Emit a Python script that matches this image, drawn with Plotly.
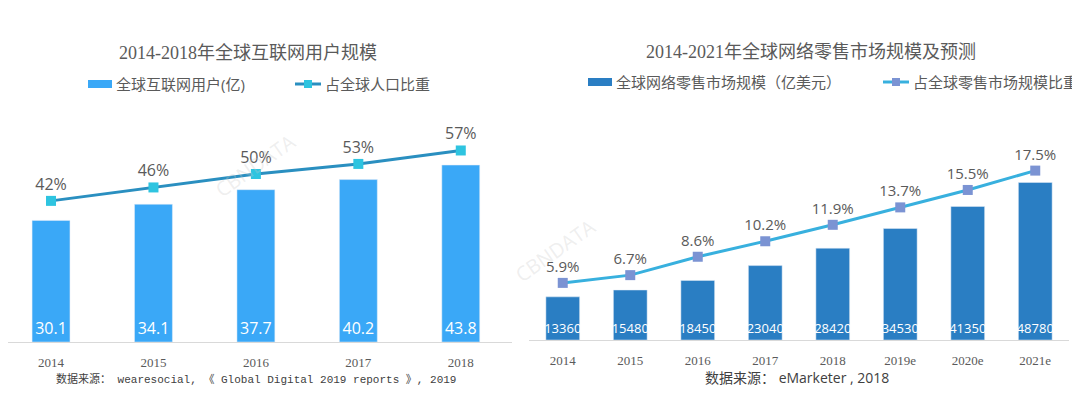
import plotly.graph_objects as go

# ---------------- data ----------------
left_years = ["2014", "2015", "2016", "2017", "2018"]
left_users = [30.1, 34.1, 37.7, 40.2, 43.8]          # 全球互联网用户(亿)
left_share = [42, 46, 50, 53, 57]                    # 占全球人口比重 (%)

right_years = ["2014", "2015", "2016", "2017", "2018", "2019e", "2020e", "2021e"]
right_market = [13360, 15480, 18450, 23040, 28420, 34530, 41350, 48780]  # 亿美元
right_share = [5.9, 6.7, 8.6, 10.2, 11.9, 13.7, 15.5, 17.5]             # %

left_title = "2014-2018年全球互联网用户规模"
right_title = "2014-2021年全球网络零售市场规模及预测"
left_bar_name = "全球互联网用户(亿)"
left_line_name = "占全球人口比重"
right_bar_name = "全球网络零售市场规模（亿美元）"
right_line_name = "占全球零售市场规模比重"
left_source = "数据来源： wearesocial, 《 Global Digital 2019 reports 》, 2019"
right_source = "数据来源： eMarketer , 2018"

# ---------------- style ----------------
# the page body has an 8px margin, so the figure is drawn 8px right/down
OX, OY = 8, 8
W, H = 1080 - OX, 393 - OY
SANS = "Open Sans, Noto Sans CJK SC, sans-serif"
SERIF = "Liberation Serif, Noto Sans CJK SC, serif"
GRAY = "#5a5a5a"
L_BAR = "#3aa8f7"
L_LINE = "#2a8fc0"
L_MARK = "#2ec4e0"
R_BAR = "#2a7ec3"
R_LINE = "#38b0de"
R_MARK = "#7b93d3"


def px(x):
    return (x - OX) / W


def py(y):
    return 1 - (y - OY) / H


fig = go.Figure()

# left chart
fig.add_trace(go.Bar(
    x=left_years, y=left_users, marker_color=L_BAR, width=0.37,
    text=[f"{v:.1f}" for v in left_users], textposition="inside", textangle=0,
    insidetextanchor="start", constraintext="none",
    textfont=dict(color="white", size=16, family=SANS),
    xaxis="x", yaxis="y", showlegend=False, hoverinfo="skip",
))
fig.add_trace(go.Scatter(
    x=left_years, y=left_share, mode="lines+markers+text",
    line=dict(color=L_LINE, width=3),
    marker=dict(symbol="square", size=10, color=L_MARK),
    text=[f"{v}%" for v in left_share], textposition="top center",
    textfont=dict(color=GRAY, size=16, family=SANS),
    xaxis="x", yaxis="y2", showlegend=False, hoverinfo="skip",
    cliponaxis=False,
))

# right chart
fig.add_trace(go.Bar(
    x=right_years, y=right_market, marker_color=R_BAR, width=0.5,
    text=[str(v) for v in right_market], textposition="inside", textangle=0,
    insidetextanchor="start", constraintext="none",
    textfont=dict(color="white", size=13, family=SANS),
    xaxis="x2", yaxis="y3", showlegend=False, hoverinfo="skip",
))
fig.add_trace(go.Scatter(
    x=right_years, y=right_share, mode="lines+markers+text",
    line=dict(color=R_LINE, width=3),
    marker=dict(symbol="square", size=10, color=R_MARK),
    text=[f"{v}%" for v in right_share], textposition="top center",
    textfont=dict(color=GRAY, size=15, family=SANS),
    xaxis="x2", yaxis="y4", showlegend=False, hoverinfo="skip",
    cliponaxis=False,
))

L_BASE, R_BASE, TOP = 342, 340, 100
left_dom = [py(L_BASE), py(TOP)]
right_dom = [py(R_BASE), py(TOP)]

# left category axis: first category centred at pixel 51, step 102.4 px
L_STEP, L_FIRST = 102.4, 51
left_xrange = [(OX - L_FIRST) / L_STEP, len(left_years) - 0.5]

xcommon = dict(showgrid=False, zeroline=False, showline=True, linecolor="#d9d9d9",
               linewidth=1, ticks="", tickfont=dict(family=SERIF, size=13, color=GRAY),
               fixedrange=True)
ycommon = dict(visible=False, showgrid=False, zeroline=False, fixedrange=True)

fig.update_layout(
    width=W, height=H, margin=dict(l=0, r=0, t=0, b=0),
    paper_bgcolor="white", plot_bgcolor="rgba(0,0,0,0)",
    xaxis=dict(domain=[0, px(512)], range=left_xrange, anchor="y",
               ticklabelstandoff=8, **xcommon),
    yaxis=dict(domain=left_dom, range=[0, (L_BASE - TOP) / 4.04], **ycommon),
    yaxis2=dict(overlaying="y", side="right", range=[0, (L_BASE - TOP) / 3.36], **ycommon),
    xaxis2=dict(domain=[px(529), px(1069)], anchor="y3", ticklabelstandoff=8, **xcommon),
    yaxis3=dict(domain=right_dom, range=[0, (R_BASE - TOP) / 0.00323], **ycommon),
    yaxis4=dict(overlaying="y3", side="right", range=[0, (R_BASE - TOP) / 9.68], **ycommon),
)

annotations = []
shapes = []


def text_at(t, x, y, font, xanchor="center"):
    annotations.append(dict(text=t, x=px(x), y=py(y), xref="paper", yref="paper",
                            xanchor=xanchor, yanchor="middle", showarrow=False, font=font))


# titles
text_at(left_title, 248, 53, dict(family=SERIF, size=18, color=GRAY))
text_at(right_title, 811, 52, dict(family=SERIF, size=18, color=GRAY))


def legend(bar_x, bar_color, bar_text, line_x, line_color, mark_color, line_text, cy):
    shapes.append(dict(type="rect", xref="paper", yref="paper",
                       x0=px(bar_x), x1=px(bar_x + 24), y0=py(cy + 4), y1=py(cy - 4),
                       fillcolor=bar_color, line=dict(width=0)))
    text_at(bar_text, bar_x + 26, cy, dict(family=SANS, size=15, color=GRAY), "left")
    shapes.append(dict(type="line", xref="paper", yref="paper",
                       x0=px(line_x), x1=px(line_x + 26), y0=py(cy), y1=py(cy),
                       line=dict(color=line_color, width=3)))
    shapes.append(dict(type="rect", xref="paper", yref="paper",
                       x0=px(line_x + 9), x1=px(line_x + 17), y0=py(cy + 4), y1=py(cy - 4),
                       fillcolor=mark_color, line=dict(width=0)))
    text_at(line_text, line_x + 28, cy, dict(family=SANS, size=15, color=GRAY), "left")


legend(88, L_BAR, left_bar_name, 295, L_LINE, L_MARK, left_line_name, 84)
legend(588, R_BAR, right_bar_name, 883, R_LINE, R_MARK, right_line_name, 82)

# sources
text_at(left_source, 256, 379,
        dict(family="Liberation Mono, Noto Sans CJK SC, monospace", size=11, color="#404040"))
text_at(right_source, 797, 377, dict(family=SANS, size=14, color="#404040"))

# faint watermarks
for (wx, wy, ang) in [(255, 165, -35), (555, 250, -35)]:
    annotations.append(dict(text="CBNDATA", x=px(wx), y=py(wy), xref="paper", yref="paper",
                            xanchor="center", yanchor="middle",
                            showarrow=False, textangle=ang,
                            font=dict(family=SANS, size=20, color="rgba(200,200,200,0.3)")))

fig.update_layout(annotations=annotations, shapes=shapes)

fig.write_html("out.html")
